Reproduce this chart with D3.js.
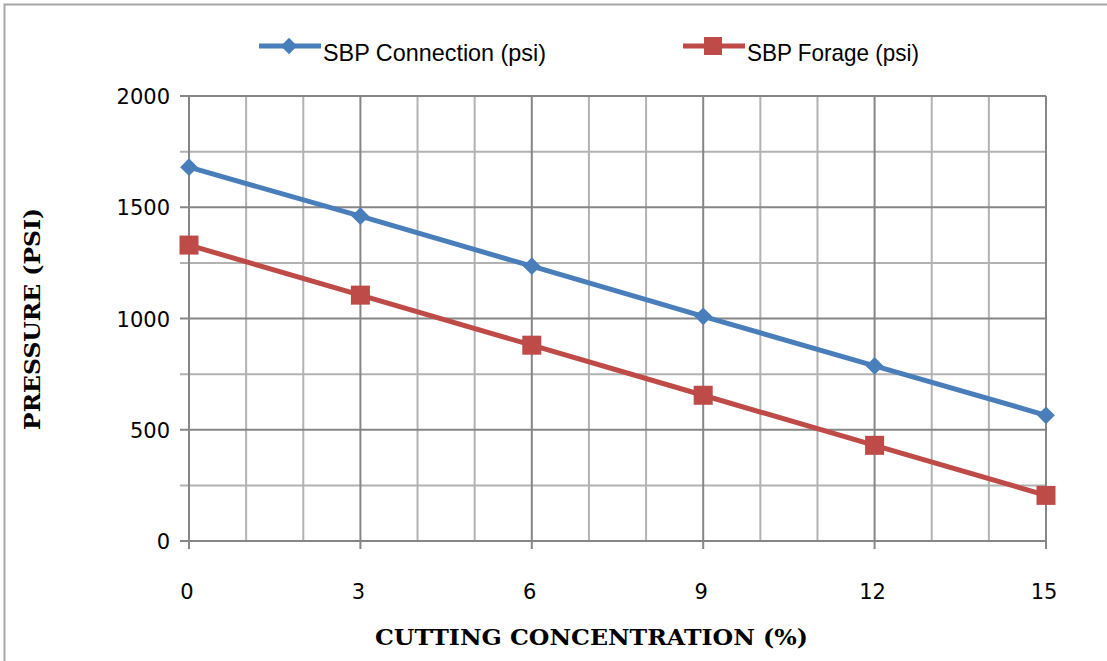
<!DOCTYPE html>
<html>
<head>
<meta charset="utf-8">
<script src="https://cdn.jsdelivr.net/npm/d3@7"></script>
<style>
  body { margin: 0; background: #fff; }
  svg { display: block; }
</style>
</head>
<body>
<div id="chart"></div>
<script>
// data
const concentrations = [0, 3, 6, 9, 12, 15];
const connectionPsi = [1680, 1460, 1235, 1010, 787, 565];
const foragePsi = [1330, 1105, 880, 655, 430, 205];
const seriesNames = ["SBP Connection (psi)", "SBP Forage (psi)"];
const yTicks = [0, 500, 1000, 1500, 2000];

const W = 1107, H = 661;
const margin = {top: 96, right: 61, bottom: 120, left: 189};
const width = W - margin.left - margin.right,
      height = H - margin.top - margin.bottom;

const svg = d3.select("#chart").append("svg")
  .attr("width", W).attr("height", H);

// outer frame
svg.append("path")
  .attr("d", `M4.5,${H} V4.5 H${W}`)
  .attr("fill", "none").attr("stroke", "#a6a6a6").attr("stroke-width", 2);

const g = svg.append("g").attr("transform", `translate(${margin.left},${margin.top})`);

const x = d3.scaleLinear().domain([0, 15]).range([0, width]);
const y = d3.scaleLinear().domain([0, 2000]).range([height, 0]);

// minor grid
g.append("g").selectAll("line")
  .data(d3.range(0, 2001, 250).filter(v => v % 500 !== 0))
  .join("line")
  .attr("x1", -9).attr("x2", width)
  .attr("y1", d => y(d)).attr("y2", d => y(d))
  .attr("stroke", "#b2b2b2").attr("stroke-width", 2);
g.append("g").selectAll("line")
  .data(d3.range(0, 16).filter(v => v % 3 !== 0))
  .join("line")
  .attr("x1", d => x(d)).attr("x2", d => x(d))
  .attr("y1", 0).attr("y2", height)
  .attr("stroke", "#b2b2b2").attr("stroke-width", 2);

// major grid
g.append("g").selectAll("line")
  .data(yTicks)
  .join("line")
  .attr("x1", -9).attr("x2", width)
  .attr("y1", d => y(d)).attr("y2", d => y(d))
  .attr("stroke", "#868686").attr("stroke-width", 2);
g.append("g").selectAll("line")
  .data(concentrations)
  .join("line")
  .attr("x1", d => x(d)).attr("x2", d => x(d))
  .attr("y1", 0).attr("y2", height + 8)
  .attr("stroke", "#868686").attr("stroke-width", 2);

// tick labels
g.append("g").selectAll("text")
  .data(yTicks)
  .join("text")
  .attr("x", -19).attr("y", d => y(d) + 8)
  .attr("text-anchor", "end")
  .attr("font-family", "DejaVu Sans").attr("font-size", 21)
  .text(d => d);
g.append("g").selectAll("text")
  .data(concentrations)
  .join("text")
  .attr("x", d => x(d) - 2).attr("y", height + 58)
  .attr("text-anchor", "middle")
  .attr("font-family", "DejaVu Sans").attr("font-size", 21)
  .text(d => d);

// axis titles
svg.append("text")
  .attr("x", 375).attr("y", 645)
  .attr("textLength", 433).attr("lengthAdjust", "spacingAndGlyphs")
  .attr("font-family", "DejaVu Serif").attr("font-weight", "bold").attr("font-size", 23)
  .text("CUTTING CONCENTRATION (%)");
svg.append("text")
  .attr("transform", "translate(40,430) rotate(-90)")
  .attr("textLength", 222).attr("lengthAdjust", "spacingAndGlyphs")
  .attr("font-family", "DejaVu Serif").attr("font-weight", "bold").attr("font-size", 23)
  .text("PRESSURE (PSI)");

const colors = ["#4a7ebb", "#be4b48"];
const series = [connectionPsi, foragePsi];
const line = d3.line().x((d, i) => x(concentrations[i])).y(d => y(d));

series.forEach((vals, s) => {
  g.append("path")
    .datum(vals)
    .attr("d", line)
    .attr("fill", "none").attr("stroke", colors[s]).attr("stroke-width", 5);
});

g.append("g").selectAll("path")
  .data(connectionPsi)
  .join("path")
  .attr("transform", (d, i) => `translate(${x(concentrations[i])},${y(d)}) rotate(45)`)
  .attr("d", d3.symbol().type(d3.symbolSquare2).size(200))
  .attr("fill", colors[0]);
g.append("g").selectAll("rect")
  .data(foragePsi)
  .join("rect")
  .attr("x", (d, i) => x(concentrations[i]) - 9.5)
  .attr("y", d => y(d) - 9.5)
  .attr("width", 19).attr("height", 19)
  .attr("fill", colors[1]);

// legend
const legend = [
  {x0: 259, name: seriesNames[0], color: colors[0], shape: "diamond", len: 223},
  {x0: 683, name: seriesNames[1], color: colors[1], shape: "square", len: 172}
];
legend.forEach(l => {
  const lg = svg.append("g").attr("transform", `translate(${l.x0},46)`);
  lg.append("line").attr("x1", 0).attr("x2", 62).attr("y1", 0).attr("y2", 0)
    .attr("stroke", l.color).attr("stroke-width", 5);
  if (l.shape === "diamond") {
    lg.append("path").attr("transform", "translate(30,0) rotate(45)")
      .attr("d", d3.symbol().type(d3.symbolSquare2).size(170)).attr("fill", l.color);
  } else {
    lg.append("rect").attr("x", 21).attr("y", -9).attr("width", 18).attr("height", 18)
      .attr("fill", l.color);
  }
  lg.append("text").attr("x", 64).attr("y", 15)
    .attr("textLength", l.len).attr("lengthAdjust", "spacingAndGlyphs")
    .attr("font-family", "Liberation Sans Narrow, Liberation Sans")
    .attr("font-size", 24)
    .text(l.name);
});
</script>
</body>
</html>
